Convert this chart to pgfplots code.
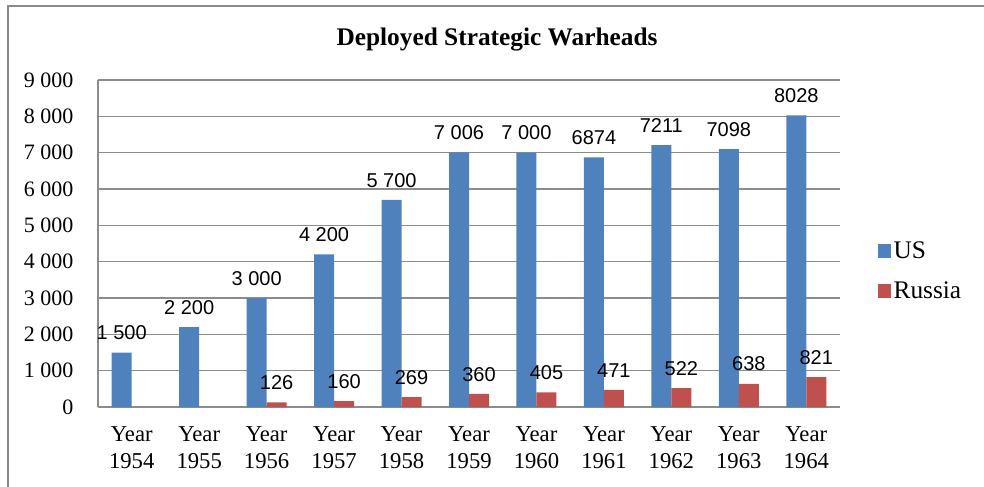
\documentclass[border=0pt]{standalone}
\usepackage{pgfplots}
\pgfplotsset{compat=1.18}
\usepackage{fontspec}
\setmainfont{Liberation Serif}
\newfontfamily\sansf{Liberation Sans}
\definecolor{usblue}{HTML}{4F81BD}
\definecolor{rured}{HTML}{C0504D}
\definecolor{gridgray}{HTML}{8C8C8C}
\definecolor{framegray}{HTML}{8A8A8A}
\begin{document}
\begin{tikzpicture}
\begin{scope}[x=0.75pt,y=0.75pt]
\useasboundingbox (0,0) rectangle (984,486);
\draw[framegray, line width=1.5pt] (8,-10) -- (8,480) -- (995,480);
\node[font=\bfseries\fontsize{19}{22}\selectfont, anchor=base] at (497,440) {Deployed Strategic Warheads};
\end{scope}
\begin{axis}[
  at={(73.5pt,59.25pt)}, anchor=south west,
  scale only axis, width=556.5pt, height=245.25pt,
  ybar=0pt, bar width=15pt,
  xmin=-0.5, xmax=10.5, ymin=0, ymax=9000,
  ytick={0,1000,...,9000},
  yticklabels={0,1 000,2 000,3 000,4 000,5 000,6 000,7 000,8 000,9 000},
  xtick={0,...,10},
  xticklabels={{Year\\1954},{Year\\1955},{Year\\1956},{Year\\1957},{Year\\1958},{Year\\1959},{Year\\1960},{Year\\1961},{Year\\1962},{Year\\1963},{Year\\1964}},
  xticklabel style={align=center, font=\fontsize{17}{20}\selectfont, yshift=-7pt},
  yticklabel style={font=\rmfamily\fontsize{16.5}{19}\selectfont, xshift=-15pt},
  scaled y ticks=false,
  axis x line*=bottom, axis y line*=left,
  x axis line style={draw=none},
  y axis line style={gridgray, line width=0.8pt},
  xtick style={draw=none}, ytick style={draw=none},
  ymajorgrids, grid style={gridgray, line width=0.8pt},
  legend style={at={(1.045,0.416)}, anchor=west, draw=none, fill=none,
    font=\fontsize{19}{22}\selectfont, row sep=12pt},
  legend cell align=left,
  legend image code/.code={\fill[#1] (0pt,-5pt) rectangle (10pt,5pt);},
  nodes near coords,
  point meta=explicit symbolic,
  nodes near coords style={font=\sansf\fontsize{15}{18}\selectfont, yshift=6pt},
]
\addplot[fill=usblue, draw=none] coordinates {
  (0,1500) [1 500] (1,2200) [2 200] (2,3000) [3 000] (3,4200) [4 200]
  (4,5700) [5 700] (5,7006) [7 006] (6,7000) [7 000] (7,6874) [6874]
  (8,7211) [7211] (9,7098) [7098] (10,8028) [8028]};
\addlegendentry{US}
\addplot[fill=rured, draw=none] coordinates {
  (2,126) [126] (3,160) [160] (4,269) [269] (5,360) [360] (6,405) [405]
  (7,471) [471] (8,522) [522] (9,638) [638] (10,821) [821]};
\addlegendentry{Russia}
\end{axis}
\end{tikzpicture}
\end{document}
